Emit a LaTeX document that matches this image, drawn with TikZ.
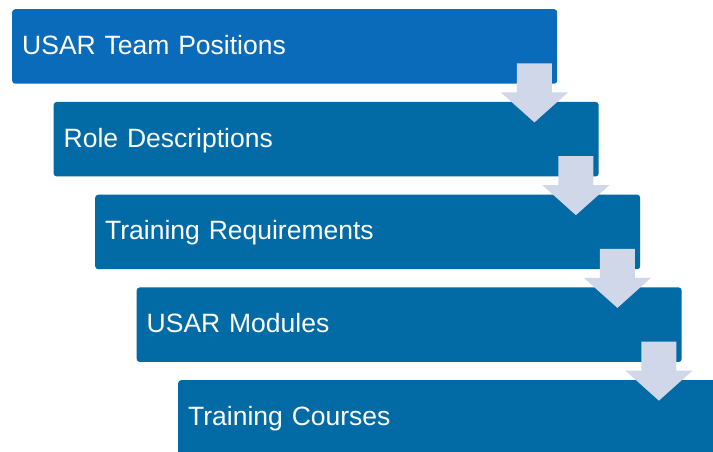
\documentclass[tikz,border=0pt]{standalone}
\usepackage{fontspec}
\setmainfont{Liberation Sans}
\definecolor{boxtop}{RGB}{10,107,186}
\definecolor{boxblue}{RGB}{2,106,165}
\definecolor{arrowfill}{RGB}{208,215,232}
\tikzset{
  stepbox/.style={draw=none, fill=boxblue, rounded corners=3pt, anchor=north west,
    minimum width=545pt, minimum height=74.5pt, text width=525pt, align=left,
    inner xsep=10pt, inner ysep=0pt, text=white, font=\fontsize{26.5}{30}\selectfont,
    text height=18pt, text depth=2pt},
  downarrow/.style={fill=arrowfill, draw=none}
}
\newcommand{\downarr}[1]{%
  \fill[downarrow] ($(#1.south east)+(-40.5,-20.5)$) -- ($(#1.south east)+(-5.5,-20.5)$)
    -- ($(#1.south east)+(-5.5,8.5)$) -- ($(#1.south east)+(10.5,8.5)$)
    -- ($(#1.south east)+(-23,38.5)$) -- ($(#1.south east)+(-56.5,8.5)$)
    -- ($(#1.south east)+(-40.5,8.5)$) -- cycle;}
\usetikzlibrary{calc}
\begin{document}
\begin{tikzpicture}[x=1pt,y=-1pt]
  \useasboundingbox[clip] (0,0) rectangle (713,451);
  \fill[white] (0,0) rectangle (713,451);
  \node[stepbox, fill=boxtop] (b1) at (12,9) {USAR Team Positions};
  \node[stepbox] (b2) at (53.5,101.75) {Role Descriptions};
  \node[stepbox] (b3) at (95,194.5) {Training Requirements};
  \node[stepbox] (b4) at (136.5,287.25) {USAR Modules};
  \node[stepbox] (b5) at (178,380) {Training Courses};
  \downarr{b1}
  \downarr{b2}
  \downarr{b3}
  \downarr{b4}
\end{tikzpicture}
\end{document}
